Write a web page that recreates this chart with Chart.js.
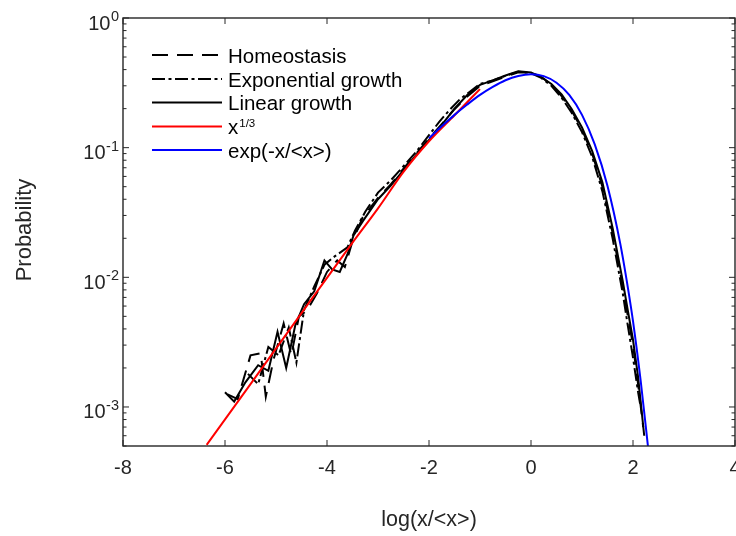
<!DOCTYPE html>
<html lang="en">
<head>
  <meta charset="UTF-8">
  <title>Probability vs log(x/&lt;x&gt;)</title>
  <script src="https://cdn.jsdelivr.net/npm/chart.js@4/dist/chart.umd.min.js"></script>
  <style>
    body {
      margin: 0;
      background: #ffffff;
    }
    canvas {
      display: block;
    }
  </style>
</head>
<body>
  <canvas id="distChart" width="736" height="536"></canvas>

  <script>
    // values
    const seriesNames = ['Homeostasis', 'Exponential growth', 'Linear growth', 'x', 'exp(-x/<x>)'];

    const homeoX = [-5.95, -5.75, -5.5, -5.3, -5.2, -5.05, -4.85, -4.7, -4.55, -4.4, -4.2, -4.0, -3.8, -3.65, -3.5, -3.3, -3.0, -2.75, -2.5, -2.25, -2.0, -1.75, -1.5, -1.25, -1.0, -0.75, -0.5, -0.25, 0.0, 0.2, 0.4, 0.6, 0.8, 1.0, 1.2, 1.4, 1.6, 1.8, 1.9, 2.0, 2.1, 2.2];
    const homeoY = [1.25e-3, 1.15e-3, 2.5e-3, 2.6e-3, 1.2e-3, 2.3e-3, 4.4e-3, 2.5e-3, 5.0e-3, 5.5e-3, 7.5e-3, 0.011, 0.0135, 0.012, 0.019, 0.029, 0.041, 0.052, 0.069, 0.09, 0.118, 0.152, 0.198, 0.248, 0.3, 0.325, 0.352, 0.382, 0.38, 0.352, 0.306, 0.25, 0.192, 0.138, 0.09, 0.05, 0.022, 0.0085, 0.005, 0.003, 0.0015, 0.0007];

    const expoX = [-5.55, -5.35, -5.15, -4.95, -4.75, -4.6, -4.45, -4.25, -4.05, -3.85, -3.6, -3.45, -3.25, -3.0, -2.75, -2.5, -2.25, -2.0, -1.8, -1.6, -1.4, -1.2, -1.0, -0.75, -0.5, -0.25, 0.0, 0.2, 0.4, 0.6, 0.8, 1.0, 1.2, 1.4, 1.6, 1.8, 1.9, 2.0, 2.1, 2.15];
    const expoY = [1.8e-3, 1.5e-3, 2.9e-3, 2.5e-3, 4.1e-3, 2.2e-3, 5.6e-3, 8.5e-3, 0.0125, 0.0145, 0.017, 0.023, 0.032, 0.045, 0.056, 0.072, 0.093, 0.125, 0.158, 0.195, 0.235, 0.27, 0.31, 0.33, 0.358, 0.385, 0.375, 0.345, 0.3, 0.243, 0.185, 0.132, 0.085, 0.046, 0.02, 0.0075, 0.0042, 0.0024, 0.0013, 0.001];

    const linX = [-6.0, -5.82, -5.6, -5.35, -5.15, -4.97, -4.8, -4.62, -4.45, -4.25, -4.05, -3.9, -3.75, -3.6, -3.48, -3.3, -3.0, -2.75, -2.5, -2.25, -2.0, -1.75, -1.5, -1.25, -1.0, -0.75, -0.5, -0.25, 0.0, 0.2, 0.4, 0.6, 0.8, 1.0, 1.2, 1.4, 1.6, 1.8, 1.9, 2.0, 2.1, 2.22];
    const linY = [1.3e-3, 1.1e-3, 1.55e-3, 2.1e-3, 1.9e-3, 3.8e-3, 2.0e-3, 4.3e-3, 6.2e-3, 7.8e-3, 0.0135, 0.0115, 0.011, 0.015, 0.021, 0.027, 0.04, 0.051, 0.067, 0.088, 0.115, 0.15, 0.2, 0.255, 0.305, 0.33, 0.36, 0.388, 0.38, 0.35, 0.31, 0.257, 0.198, 0.143, 0.094, 0.054, 0.024, 0.0093, 0.0055, 0.0033, 0.0017, 0.0006];

    const redX = [-6.36, -5.5, -4.5, -3.5, -3.0, -2.5, -2.0, -1.5, -1.0];
    const redY = [5.1e-4, 1.5e-3, 5.3e-3, 0.0185, 0.034, 0.065, 0.112, 0.178, 0.283];

    const blueX = [-2.0, -1.75, -1.5, -1.25, -1.0, -0.75, -0.5, -0.25, 0.0, 0.25, 0.5, 0.75, 1.0, 1.25, 1.5, 1.75, 1.9, 2.0, 2.15, 2.3];
    const blueY = [0.118, 0.146, 0.179, 0.215, 0.255, 0.294, 0.331, 0.357, 0.368, 0.356, 0.317, 0.255, 0.179, 0.106, 0.0507, 0.0182, 0.0083, 0.0046, 0.0016, 0.00047];

    const xTicks = [-8, -6, -4, -2, 0, 2, 4];
    const yTickValues = [1, 0.1, 0.01, 0.001];
    const yTickExps = ['0', '-1', '-2', '-3'];

    const FONT = "'Liberation Sans', Arial, Helvetica, sans-serif";
    const AXIS = '#262626';

    function pts(xs, ys) {
      return xs.map((v, i) => ({ x: v, y: ys[i] }));
    }

    // box, inward ticks, y labels with exponents, axis titles, legend
    const matlabFrame = {
      id: 'matlabFrame',
      afterDraw(chart) {
        const ctx = chart.ctx;
        const a = chart.chartArea;
        const xs = chart.scales.x;
        const ys = chart.scales.y;
        ctx.save();

        ctx.strokeStyle = AXIS;
        ctx.lineWidth = 1.4;
        ctx.strokeRect(a.left, a.top, a.right - a.left, a.bottom - a.top);

        ctx.beginPath();
        xTicks.forEach(v => {
          const px = xs.getPixelForValue(v);
          ctx.moveTo(px, a.bottom); ctx.lineTo(px, a.bottom - 6);
          ctx.moveTo(px, a.top); ctx.lineTo(px, a.top + 6);
        });
        for (let k = -4; k <= 0; k++) {
          for (let m = 1; m <= 9; m++) {
            const v = m * Math.pow(10, k);
            if (v < ys.min * 0.999 || v > ys.max * 1.001) continue;
            const py = ys.getPixelForValue(v);
            const len = m === 1 ? 6 : 3.5;
            ctx.moveTo(a.left, py); ctx.lineTo(a.left + len, py);
            ctx.moveTo(a.right, py); ctx.lineTo(a.right - len, py);
          }
        }
        ctx.lineWidth = 1;
        ctx.stroke();

        // y tick labels 10^k
        ctx.fillStyle = AXIS;
        ctx.textAlign = 'left';
        ctx.textBaseline = 'alphabetic';
        yTickValues.forEach((v, i) => {
          const py = ys.getPixelForValue(v);
          ctx.font = '14.5px ' + FONT;
          const we = ctx.measureText(yTickExps[i]).width;
          ctx.font = '20px ' + FONT;
          const wb = ctx.measureText('10').width;
          const ex = a.left - 4 - we;
          ctx.fillText('10', ex - wb - 0.5, py + 11.5);
          ctx.font = '14.5px ' + FONT;
          ctx.fillText(yTickExps[i], ex, py + 3);
        });

        // axis titles
        ctx.font = '21.5px ' + FONT;
        ctx.textAlign = 'center';
        ctx.fillText('log(x/<x>)', (a.left + a.right) / 2, 526);
        ctx.save();
        ctx.translate(31, 230);
        ctx.rotate(-Math.PI / 2);
        ctx.font = '22px ' + FONT;
        ctx.fillText('Probability', 0, 0);
        ctx.restore();

        // legend
        const rows = [55, 79, 102.5, 126.5, 150];
        chart.data.datasets.forEach((ds, i) => {
          const ry = rows[i];
          ctx.beginPath();
          ctx.setLineDash(ds.borderDash || []);
          ctx.strokeStyle = ds.borderColor;
          ctx.lineWidth = 2;
          ctx.moveTo(152, ry);
          ctx.lineTo(222, ry);
          ctx.stroke();
          ctx.setLineDash([]);
          ctx.fillStyle = '#000';
          ctx.textAlign = 'left';
          ctx.font = '20.5px ' + FONT;
          ctx.fillText(seriesNames[i], 228, ry + 7.5);
          if (i === 3) {
            const w = ctx.measureText(seriesNames[i]).width;
            ctx.font = '11.5px ' + FONT;
            ctx.fillText('1/3', 228 + w + 1, ry);
          }
        });

        ctx.restore();
      }
    };

    const chart = new Chart(document.getElementById('distChart'), {
      type: 'line',
      data: {
        datasets: [
          {
            label: seriesNames[0],
            data: pts(homeoX, homeoY),
            borderColor: '#000000',
            borderDash: [16, 9],
            borderWidth: 2,
            pointRadius: 0,
            tension: 0,
            order: 2
          },
          {
            label: seriesNames[1],
            data: pts(expoX, expoY),
            borderColor: '#000000',
            borderDash: [13, 3.5, 3, 3.5],
            borderWidth: 2,
            pointRadius: 0,
            tension: 0,
            order: 2
          },
          {
            label: seriesNames[2],
            data: pts(linX, linY),
            borderColor: '#000000',
            borderWidth: 2,
            pointRadius: 0,
            tension: 0,
            order: 2
          },
          {
            label: seriesNames[3],
            data: pts(redX, redY),
            borderColor: '#ff0000',
            borderWidth: 2,
            pointRadius: 0,
            cubicInterpolationMode: 'monotone',
            order: 1
          },
          {
            label: seriesNames[4],
            data: pts(blueX, blueY),
            borderColor: '#0000ff',
            borderWidth: 2,
            pointRadius: 0,
            cubicInterpolationMode: 'monotone',
            order: 0
          }
        ]
      },
      options: {
        responsive: false,
        animation: false,
        layout: {
          padding: { top: 18, right: 1, left: 0, bottom: 0 }
        },
        scales: {
          x: {
            type: 'linear',
            min: -8,
            max: 4,
            afterBuildTicks: s => { s.ticks = xTicks.map(v => ({ value: v })); },
            afterFit: s => { s.height = 90; s.paddingLeft = 0; s.paddingRight = 0; },
            grid: { display: false, drawTicks: false },
            border: { display: false },
            ticks: {
              autoSkip: false,
              maxRotation: 0,
              padding: 10,
              color: AXIS,
              font: { family: FONT, size: 20 }
            }
          },
          y: {
            type: 'logarithmic',
            min: 5e-4,
            max: 1,
            afterFit: s => { s.width = 123; },
            grid: { display: false, drawTicks: false },
            border: { display: false },
            ticks: { display: false }
          }
        },
        plugins: {
          legend: { display: false },
          tooltip: { enabled: false }
        }
      },
      plugins: [matlabFrame]
    });
  </script>
</body>
</html>
